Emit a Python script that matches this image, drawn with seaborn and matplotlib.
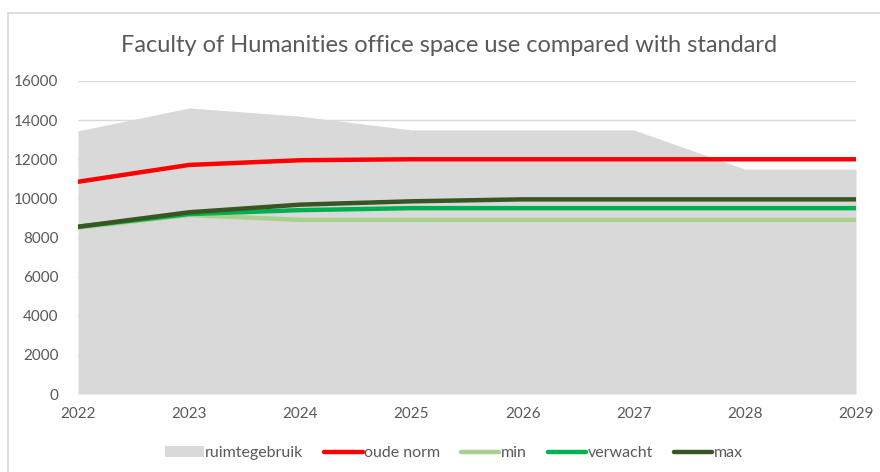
import matplotlib
matplotlib.use("Agg")
import matplotlib.pyplot as plt
import seaborn as sns
import pandas as pd
from matplotlib.patches import Patch
from matplotlib.lines import Line2D

years = [2022, 2023, 2024, 2025, 2026, 2027, 2028, 2029]
ruimtegebruik = [13450, 14620, 14200, 13500, 13500, 13500, 11500, 11500]
oude_norm = [10850, 11710, 11950, 12000, 12000, 12000, 12000, 12000]
min_vals = [8500, 9150, 8900, 8900, 8900, 8900, 8900, 8900]
verwacht = [8550, 9200, 9400, 9500, 9500, 9500, 9500, 9500]
max_vals = [8550, 9290, 9680, 9850, 9950, 9950, 9950, 9950]

series_names = ["oude norm", "min", "verwacht", "max"]
series_colors = ["#ff0000", "#a9d18e", "#00b050", "#375623"]

sns.set_theme(style="white")
plt.rcParams["font.family"] = ["Lato", "DejaVu Sans"]

df = pd.DataFrame({
    "year": years * 4,
    "value": oude_norm + min_vals + verwacht + max_vals,
    "serie": sum([[n] * len(years) for n in series_names], []),
})

fig = plt.figure(figsize=(8.8, 4.72), dpi=100)
ax = fig.add_axes([78 / 880, 1 - 394 / 472, (856 - 78) / 880, (394 - 81) / 472])

ax.fill_between(years, ruimtegebruik, 0, color="#d9d9d9", linewidth=0, zorder=1)
sns.lineplot(data=df, x="year", y="value", hue="serie", hue_order=series_names,
             palette=series_colors, linewidth=3.2, ax=ax, legend=False, zorder=3)

ax.set_xlim(2022, 2029)
ax.set_ylim(0, 16000)
ax.set_yticks(range(0, 16001, 2000))
ax.set_xticks(years)
ax.set_xticklabels([str(y) for y in years])
ax.yaxis.grid(True, color="#d9d9d9", linewidth=1)
ax.set_axisbelow(True)
for s in ax.spines.values():
    s.set_visible(False)
ax.tick_params(axis="both", length=0, colors="#595959", labelsize=11)
ax.tick_params(axis="x", pad=9)
ax.tick_params(axis="y", pad=14)
ax.set_xlabel("")
ax.set_ylabel("")

fig.text(449 / 880, 1 - 45 / 472, "Faculty of Humanities office space use compared with standard",
         ha="center", va="center", fontsize=17, color="#595959")

handles = [Patch(facecolor="#d9d9d9", edgecolor="none", label="ruimtegebruik")]
handles += [Line2D([0], [0], color=c, linewidth=3.2, label=n) for n, c in zip(series_names, series_colors)]
fig.legend(handles=handles, loc="center", bbox_to_anchor=(454 / 880, 1 - 453 / 472), ncol=5,
           frameon=False, fontsize=11.5, handlelength=2.4, handletextpad=0.1, columnspacing=1.3,
           labelcolor="#595959")

# chart frame (left and top edges)
fig.add_artist(Line2D([8 / 880, 8 / 880], [0, 1 - 13 / 472], color="#d9d9d9", linewidth=1.2,
                      transform=fig.transFigure))
fig.add_artist(Line2D([8 / 880, 1], [1 - 13 / 472, 1 - 13 / 472], color="#d9d9d9", linewidth=1.2,
                      transform=fig.transFigure))

fig.savefig("out.png", dpi=100)
